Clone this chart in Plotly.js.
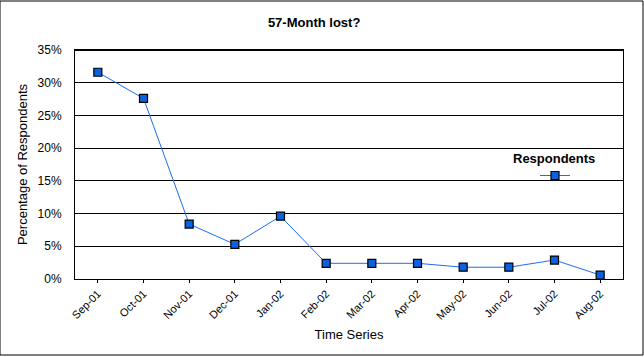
<!DOCTYPE html>
<html>
<head>
<meta charset="utf-8">
<script src="https://cdn.plot.ly/plotly-3.0.1.min.js"></script>
<style>
html,body{margin:0;padding:0;background:#fff;}
#chart{width:644px;height:357px;}
</style>
</head>
<body>
<div id="chart"></div>
<script>
const categories = ["Sep-01","Oct-01","Nov-01","Dec-01","Jan-02","Feb-02","Mar-02","Apr-02","May-02","Jun-02","Jul-02","Aug-02"];
const respondents = [31.6, 27.6, 8.4, 5.3, 9.6, 2.4, 2.4, 2.4, 1.8, 1.8, 2.9, 0.6];
const yTicks = [0, 5, 10, 15, 20, 25, 30, 35];
const seriesName = "Respondents";
const chartTitle = "57-Month lost?";

const font = "Liberation Sans, Arial, sans-serif";

const trace = {
  x: categories,
  y: respondents,
  type: "scatter",
  mode: "lines+markers",
  name: " ",
  line: {color: "#1a6ef0", width: 1},
  marker: {symbol: "square", size: 8, color: "#0a62e0", line: {color: "#000", width: 1.2}},
  showlegend: true
};

const layout = {
  width: 644, height: 357,
  margin: {l: 75, r: 21, t: 50, b: 78},
  paper_bgcolor: "#fff",
  plot_bgcolor: "#fff",
  font: {family: font, size: 12, color: "#000"},
  title: {text: "<b>" + chartTitle + "</b>", x: 281/644, xref: "paper", xanchor: "center", y: 1 - 22/357, yanchor: "middle", font: {size: 13, family: font}},
  xaxis: {
    type: "category",
    range: [-0.5, 11.5],
    showgrid: false,
    showline: true, mirror: true, linecolor: "#000", linewidth: 1,
    ticks: "outside", ticklen: 3, tickcolor: "#000",
    tickangle: -45,
    tickfont: {size: 11, family: font},
    title: {text: "Time Series", font: {size: 13, family: font}, standoff: 8},
    automargin: false
  },
  yaxis: {
    range: [0, 35],
    tickvals: yTicks,
    ticktext: yTicks.map(v => v + "%"),
    showgrid: true, gridcolor: "#000", gridwidth: 1,
    zeroline: false,
    showline: true, mirror: true, linecolor: "#000", linewidth: 1,
    ticks: "", ticklabelstandoff: 10,
    tickfont: {size: 12, family: font},
    title: {text: "Percentage of Respondents", font: {size: 13, family: font}, standoff: 7},
    automargin: false
  },
  showlegend: true,
  legend: {
    x: (555 - 75 - 20)/548, xref: "paper", xanchor: "left",
    y: (279 - 175 + 14)/229, yref: "paper", yanchor: "top",
    bgcolor: "rgba(0,0,0,0)",
    borderwidth: 0,
    itemwidth: 30,
    font: {size: 1}
  },
  annotations: [
    {text: "<b>" + seriesName + "</b>", xref: "paper", yref: "paper", x: (554-75)/548, y: (279-158)/229, xanchor: "center", yanchor: "middle", showarrow: false, font: {size: 13, family: font}}
  ],
  shapes: [
    {type: "line", xref: "paper", yref: "paper", x0: 0, x1: 1, y0: 1, y1: 1, line: {color: "#000", width: 2}},
    {type: "rect", xref: "paper", yref: "paper", x0: -75/548, x1: 1 + 20/548, y0: -76/229, y1: 1 + 49/229, line: {color: "#000", width: 1}}
  ]
};

Plotly.newPlot("chart", [trace], layout, {displayModeBar: false, staticPlot: true});
</script>
</body>
</html>
